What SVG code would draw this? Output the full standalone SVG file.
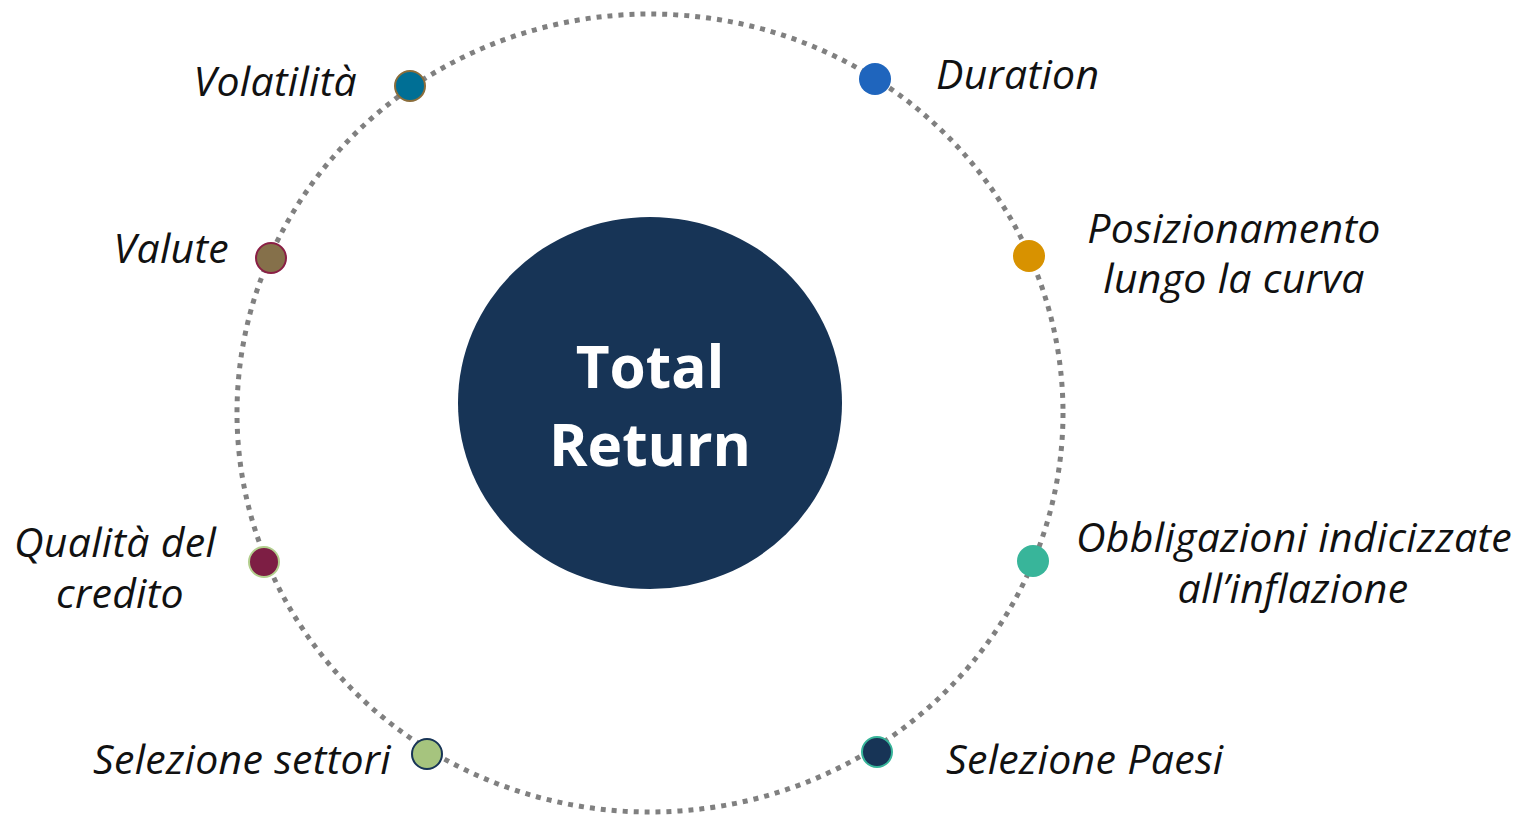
<svg xmlns="http://www.w3.org/2000/svg" width="1528" height="815" viewBox="0 0 1528 815">
<style>
.lbl{font-family:"Open Sans","Noto Sans",sans-serif;font-style:italic;font-size:41px;fill:#111111;letter-spacing:0.3px}
.ctr{font-family:"Open Sans","Noto Sans",sans-serif;font-weight:bold;font-size:58.5px;fill:#ffffff;text-anchor:middle}
.ring{fill:none;stroke:#808080;stroke-width:5;stroke-dasharray:5 6}
</style>
<rect width="1528" height="815" fill="#ffffff"/>
<g id="connectors">
<ellipse class="ring" cx="650" cy="413" rx="413" ry="399"/>
</g>
<g id="center">
<ellipse cx="650" cy="403" rx="192" ry="186" fill="#173456"/>
<text class="ctr" x="650" y="388">Total</text>
<text class="ctr" x="650" y="466">Return</text>
</g>
<g id="volatilita">
<circle cx="410" cy="86" r="15" fill="#006f95" stroke="#8a6d3b" stroke-width="2"/>
<text class="lbl" x="357" y="96" text-anchor="end">Volatilità</text>
</g>
<g id="duration">
<circle cx="875" cy="79" r="16" fill="#1f65bd"/>
<text class="lbl" x="936" y="89">Duration</text>
</g>
<g id="valute">
<circle cx="271" cy="258" r="15" fill="#85704a" stroke="#8a1f45" stroke-width="2"/>
<text class="lbl" x="229" y="263" text-anchor="end">Valute</text>
</g>
<g id="posizionamento">
<circle cx="1029" cy="256" r="16" fill="#d89200"/>
<text class="lbl" x="1234" y="243" text-anchor="middle">Posizionamento</text>
<text class="lbl" x="1234" y="293" text-anchor="middle">lungo la curva</text>
</g>
<g id="qualita">
<circle cx="264" cy="562" r="15" fill="#7d1e44" stroke="#b3cf8e" stroke-width="2"/>
<text class="lbl" x="115" y="557" text-anchor="middle">Qualità del</text>
<text class="lbl" x="120" y="608" text-anchor="middle">credito</text>
</g>
<g id="obbligazioni">
<circle cx="1033" cy="561" r="16" fill="#38b59a"/>
<text class="lbl" x="1294" y="552" text-anchor="middle">Obbligazioni indicizzate</text>
<text class="lbl" x="1293" y="603" text-anchor="middle">all’inflazione</text>
</g>
<g id="settori">
<circle cx="427" cy="754" r="15" fill="#a6c47e" stroke="#173456" stroke-width="2"/>
<text class="lbl" x="391" y="774" text-anchor="end">Selezione settori</text>
</g>
<g id="paesi">
<circle cx="877" cy="752" r="15" fill="#173456" stroke="#38b59a" stroke-width="2"/>
<text class="lbl" x="946" y="774">Selezione Paesi</text>
</g>
</svg>
